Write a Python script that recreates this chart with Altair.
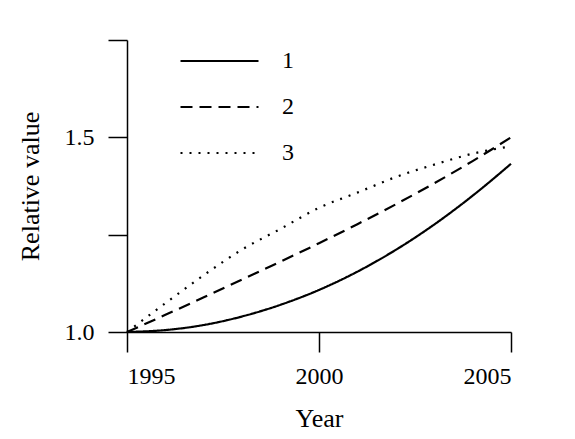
import altair as alt
import pandas as pd

years = [1995, 1996, 1997, 1998, 1999, 2000, 2001, 2002, 2003, 2004, 2005]
series1 = [1.000, 1.005, 1.018, 1.040, 1.070, 1.108, 1.155, 1.211, 1.276, 1.350, 1.432]
series2 = [1.000, 1.044, 1.089, 1.135, 1.181, 1.228, 1.277, 1.328, 1.382, 1.439, 1.500]
series3 = [1.000, 1.074, 1.146, 1.212, 1.265, 1.319, 1.358, 1.398, 1.430, 1.458, 1.477]
names = ["1", "2", "3"]

rows = []
for name, vals in zip(names, [series1, series2, series3]):
    for y, v in zip(years, vals):
        rows.append({"Year": y, "Value": v, "Series": name})
df = pd.DataFrame(rows)

FONT = "Times New Roman, Liberation Serif, DejaVu Serif, serif"

chart = alt.Chart(df).mark_line(
    color="black", strokeWidth=2.2, interpolate="monotone"
).encode(
    x=alt.X("Year:Q",
            scale=alt.Scale(domain=[1995, 2005], nice=False, zero=False),
            axis=alt.Axis(values=[1995, 2000, 2005], format="d", title="Year",
                          tickSize=20, labelPadding=12, titlePadding=17,
                          grid=False)),
    y=alt.Y("Value:Q",
            scale=alt.Scale(domain=[1.0, 1.75], nice=False, zero=False),
            axis=alt.Axis(values=[1.0, 1.25, 1.5, 1.75],
                          labelExpr="(datum.value == 1 || datum.value == 1.5) ? format(datum.value, '.1f') : ''",
                          title="Relative value", tickSize=19, labelPadding=14,
                          titlePadding=21, grid=False)),
    strokeDash=alt.StrokeDash(
        "Series:N",
        scale=alt.Scale(domain=names, range=[[1, 0], [12, 7], [2, 7]]),
        legend=alt.Legend(orient="none", legendX=52, legendY=0, title=None,
                          symbolType="M-1,0H3", symbolSize=1521,
                          symbolStrokeWidth=2.2, symbolStrokeColor="black",
                          labelFontSize=24, labelFont=FONT, labelColor="black",
                          labelOffset=61, rowPadding=13, padding=0),
    ),
).properties(
    width=384, height=292,
    autosize=alt.AutoSizeParams(type="none"),
    padding={"left": 127, "top": 40, "right": 64, "bottom": 107},
).configure_axis(
    domainColor="black", tickColor="black", domainWidth=1.5, tickWidth=1.5,
    labelColor="black", titleColor="black",
    labelFont=FONT, titleFont=FONT, labelFontSize=24, titleFontSize=26,
    titleFontWeight="normal",
).configure_view(stroke=None)

chart.save("out.html", embed_options={"renderer": "svg", "actions": False})
